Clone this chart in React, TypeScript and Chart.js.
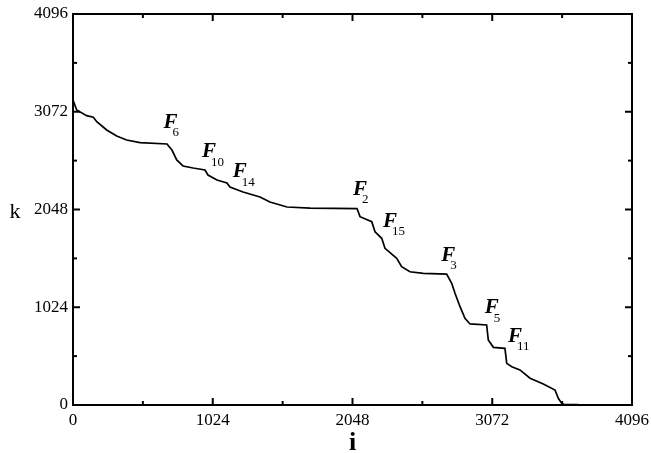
import React, { useEffect, useRef } from "react";
import { Chart, registerables } from "chart.js";

Chart.register(...registerables);

const iValues = [
  0, 27, 100, 149, 174, 247, 320, 393, 491, 689, 702, 725, 760, 806, 880, 967,
  989, 1055, 1128, 1150, 1246, 1370, 1443, 1568, 1737, 2081, 2103, 2189, 2213,
  2262, 2286, 2372, 2408, 2469, 2567, 2738, 2775, 2799, 2836, 2872, 2909, 3031,
  3043, 3080, 3165, 3178, 3215, 3275, 3349, 3446, 3532, 3556, 3581, 3600, 3703,
];
const kValues = [
  3195, 3090, 3031, 3014, 2968, 2881, 2818, 2776, 2748, 2734, 2710, 2671, 2567,
  2504, 2483, 2462, 2409, 2357, 2326, 2284, 2231, 2179, 2127, 2074, 2062, 2058,
  1973, 1920, 1815, 1746, 1641, 1537, 1449, 1396, 1379, 1372, 1275, 1170, 1030,
  908, 849, 838, 681, 604, 594, 436, 401, 367, 280, 220, 157, 70, 17, 5, 5,
];

const majorTicks = [0, 1024, 2048, 3072, 4096];
const minorTicks = [512, 1536, 2560, 3584];

const labelSubs = ["6", "10", "14", "2", "15", "3", "5", "11"];
const labelI = [714, 997, 1221, 2103, 2323, 2750, 3068, 3239];
const labelK = [2902, 2595, 2385, 2200, 1868, 1512, 961, 663];

const xTitle = "i";
const yTitle = "k";

const SERIF = "'Liberation Serif', 'Times New Roman', serif";

const framePlugin = {
  id: "frame",
  afterDraw(chart: any) {
    const { ctx, chartArea: a, scales } = chart;
    const xs = scales.x;
    const ys = scales.y;
    ctx.save();
    ctx.strokeStyle = "#000";
    ctx.lineWidth = 2;
    ctx.lineCap = "butt";
    ctx.strokeRect(a.left, a.top, a.right - a.left, a.bottom - a.top);
    const seg = (x1: number, y1: number, x2: number, y2: number) => {
      ctx.beginPath();
      ctx.moveTo(x1, y1);
      ctx.lineTo(x2, y2);
      ctx.stroke();
    };
    const tickX = (v: number, len: number) => {
      const p = xs.getPixelForValue(v);
      seg(p, a.bottom, p, a.bottom - len);
      seg(p, a.top, p, a.top + len);
    };
    const tickY = (v: number, len: number) => {
      const p = ys.getPixelForValue(v);
      seg(a.left, p, a.left + len, p);
      seg(a.right, p, a.right - len, p);
    };
    majorTicks.forEach((v) => {
      tickX(v, 7);
      tickY(v, 7);
    });
    minorTicks.forEach((v) => {
      tickX(v, 4);
      tickY(v, 4);
    });

    ctx.fillStyle = "#000";
    labelSubs.forEach((s, idx) => {
      const px = xs.getPixelForValue(labelI[idx]);
      const py = ys.getPixelForValue(labelK[idx]);
      ctx.font = `italic bold 21px ${SERIF}`;
      ctx.textAlign = "center";
      ctx.textBaseline = "alphabetic";
      ctx.fillText("F", px, py);
      ctx.font = `13px ${SERIF}`;
      ctx.textAlign = "left";
      ctx.fillText(s, px + 2, py + 8.5);
    });

    ctx.font = `22px ${SERIF}`;
    ctx.textAlign = "center";
    ctx.textBaseline = "alphabetic";
    ctx.fillText(yTitle, 15, (a.top + a.bottom) / 2 + 8);
    ctx.font = `bold 26px ${SERIF}`;
    ctx.fillText(xTitle, (a.left + a.right) / 2, 450);
    ctx.restore();
  },
};

export default function App() {
  const ref = useRef<HTMLCanvasElement | null>(null);
  useEffect(() => {
    if (!ref.current) return;
    const points = iValues.map((x, idx) => ({ x, y: kValues[idx] }));
    const zeroPad = (s: any) => {
      s.paddingLeft = 0;
      s.paddingRight = 0;
      s.paddingTop = 0;
      s.paddingBottom = 0;
    };
    const chart = new Chart(ref.current, {
      type: "line",
      data: {
        datasets: [
          {
            data: points,
            borderColor: "#000",
            borderWidth: 1.7,
            pointRadius: 0,
            tension: 0,
            fill: false,
          },
        ],
      },
      options: {
        animation: false,
        responsive: false,
        maintainAspectRatio: false,
        layout: { padding: { left: 0, top: 14, right: 19, bottom: 0 } },
        plugins: { legend: { display: false }, tooltip: { enabled: false } },
        scales: {
          x: {
            type: "linear",
            min: 0,
            max: 4096,
            grid: { display: false, drawTicks: false, tickLength: 0 },
            border: { display: false },
            afterBuildTicks: (s: any) => {
              s.ticks = majorTicks.map((v) => ({ value: v }));
            },
            afterFit: (s: any) => {
              s.height = 48;
              zeroPad(s);
            },
            ticks: {
              font: { family: SERIF, size: 17 },
              color: "#000",
              padding: 5,
              maxRotation: 0,
              autoSkip: false,
              callback: (v: any) => String(v),
            },
          },
          y: {
            type: "linear",
            min: 0,
            max: 4096,
            grid: { display: false, drawTicks: false, tickLength: 0 },
            border: { display: false },
            afterBuildTicks: (s: any) => {
              s.ticks = majorTicks.map((v) => ({ value: v }));
            },
            afterFit: (s: any) => {
              s.width = 73;
              zeroPad(s);
            },
            ticks: {
              font: { family: SERIF, size: 17 },
              color: "#000",
              padding: 5,
              autoSkip: false,
              callback: (v: any) => String(v),
            },
          },
        },
      },
      plugins: [framePlugin],
    } as any);
    return () => chart.destroy();
  }, []);
  return (
    <div style={{ position: "absolute", left: 0, top: 0, width: 651, height: 453, background: "#fff" }}>
      <canvas ref={ref} width={651} height={453} style={{ display: "block" }} />
    </div>
  );
}
